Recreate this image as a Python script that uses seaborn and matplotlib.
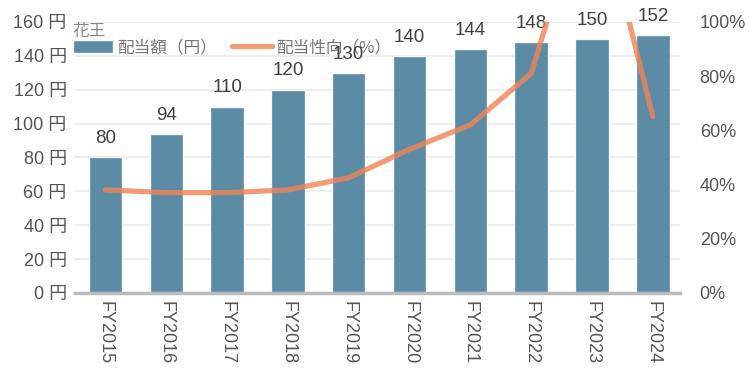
import matplotlib
matplotlib.use("Agg")
import matplotlib.pyplot as plt
import seaborn as sns
import pandas as pd
from matplotlib.ticker import FuncFormatter

years = ["FY2015", "FY2016", "FY2017", "FY2018", "FY2019", "FY2020", "FY2021", "FY2022", "FY2023", "FY2024"]
dividends = [80, 94, 110, 120, 130, 140, 144, 148, 150, 152]
payout = [38, 37, 37, 38, 42.5, 53, 62, 81, 155, 65]

sns.set_theme(style="white")
plt.rcParams['font.family'] = ['Liberation Sans', 'Noto Sans CJK JP', 'DejaVu Sans']
jp = ['Noto Sans CJK JP', 'DejaVu Sans']

df = pd.DataFrame({"year": years, "div": dividends, "payout": payout})

fig = plt.figure(figsize=(7.5, 3.77), dpi=100)
ax = fig.add_axes([0.1, 0.223, 0.807, 0.719])
bar_color = "#4a7f9c"
line_color = "#ef8455"

sns.barplot(data=df, x="year", y="div", ax=ax, color=bar_color, width=0.55, alpha=0.9,
            saturation=1, label="配当額（円）")
ax.set_ylim(0, 160)
ax.set_xlim(-0.5, 9.45)
ax.set_yticks(range(0, 161, 20))
ax.yaxis.set_major_formatter(FuncFormatter(lambda v, p: f"{int(v)} 円"))
ax.tick_params(axis='y', labelsize=13, colors="#555555", length=0, pad=6)
ax.tick_params(axis='x', labelsize=13, colors="#555555", length=0, pad=6, labelrotation=-90)
ax.grid(axis='y', color="#eeeeee", linewidth=1.5)
ax.set_axisbelow(True)
for s in ["top", "right", "left"]:
    ax.spines[s].set_visible(False)
ax.spines["bottom"].set_color("#bbbbbb")
ax.spines["bottom"].set_linewidth(2.5)
ax.set_xlabel("")
ax.set_ylabel("")

for i, v in enumerate(dividends):
    ax.text(i, v + 6, f"{v}", ha="center", va="bottom", fontsize=13.5, color="#404040", zorder=10)

ax2 = ax.twinx()
sns.lineplot(data=df, x="year", y="payout", ax=ax2, color=line_color, linewidth=3.8, alpha=0.8,
             label="配当性向（%）", legend=False)
ax2.set_ylim(0, 100)
ax2.set_yticks(range(0, 101, 20))
ax2.yaxis.set_major_formatter(FuncFormatter(lambda v, p: f"{int(v)}%"))
ax2.tick_params(axis='y', labelsize=13, colors="#555555", length=0, pad=14)
for s in ["top", "right", "left", "bottom"]:
    ax2.spines[s].set_visible(False)
ax2.set_ylabel("")
ax2.set_xlabel("")
ax2.grid(False)

h1, l1 = ax.get_legend_handles_labels()
h2, l2 = ax2.get_legend_handles_labels()
leg = ax.legend(h1 + h2, l1 + l2, loc="upper left", bbox_to_anchor=(-0.003, 0.935), ncol=2,
                frameon=False, prop={'family': jp, 'size': 12}, labelcolor="#777777",
                handlelength=2.4, handleheight=0.8, columnspacing=0.9, handletextpad=0.25,
                borderpad=0, borderaxespad=0)
leg.set_zorder(5)
fig.text(0.097, 0.895, "花王", fontfamily=jp, fontsize=12, color="#888888", ha="left", va="bottom")

fig.savefig("out.png", dpi=100)
